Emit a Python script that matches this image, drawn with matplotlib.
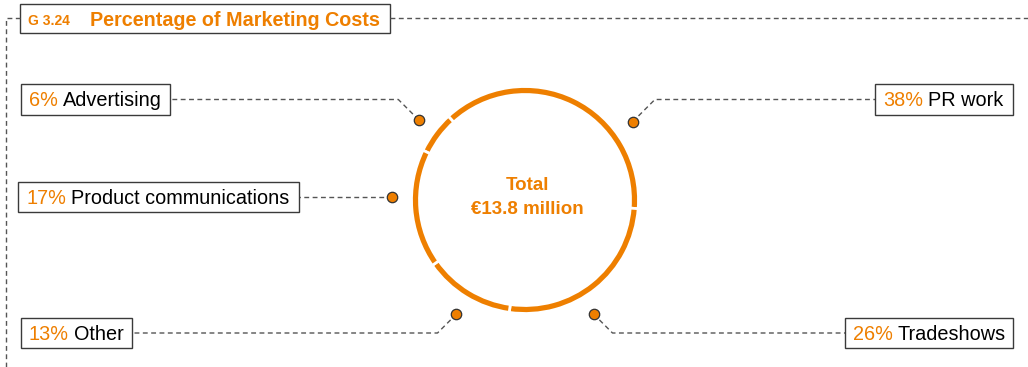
import matplotlib.pyplot as plt
from matplotlib.patches import Rectangle
import numpy as np

# marketing cost split, in the clockwise order the ring is drawn
categories = ["Advertising", "PR work", "Tradeshows", "Other", "Product communications"]
shares = [6, 38, 26, 13, 17]
total_label = "€13.8 million"

chart_id = "G 3.24"
chart_title = "Percentage of Marketing Costs"

ORANGE = "#EE7F00"
EDGE = "#3a3a3a"
DASH = "#555555"
W, H = 1028, 367

plt.rcParams["font.family"] = ["Liberation Sans", "DejaVu Sans"]

fig = plt.figure(figsize=(W / 100, H / 100), dpi=100)
ax = fig.add_axes([0, 0, 1, 1])


def Y(y):
    # layout is written in pixels from the top edge
    return H - y


cx, cy, r = 525, 200, 113.5
ax.pie(shares, radius=r, center=(cx, Y(cy)), startangle=154, counterclock=False,
       colors=[ORANGE] * len(shares), frame=True,
       wedgeprops=dict(width=8, edgecolor="white", linewidth=2.0))

ax.set_xlim(0, W)
ax.set_ylim(0, H)
ax.set_aspect("equal")
ax.axis("off")

ax.text(cx + 2, Y(186), "Total", color=ORANGE, fontsize=13.5, fontweight="bold",
        ha="center", va="center")
ax.text(cx + 2, Y(210), total_label, color=ORANGE, fontsize=13.5, fontweight="bold",
        ha="center", va="center")

# outer dashed frame and title box
dash_kw = dict(color=DASH, lw=1.0, ls=(0, (3.5, 2.5)))
ax.plot([6, 6, 20], [Y(367), Y(18), Y(18)], **dash_kw)
ax.plot([390, W], [Y(18), Y(18)], **dash_kw)
ax.add_patch(Rectangle((20, Y(33)), 370, 29, facecolor="white", edgecolor=EDGE, lw=1.0))
ax.text(28, Y(25), chart_id, color=ORANGE, fontsize=10, fontweight="bold", va="baseline")
ax.text(90, Y(26), chart_title, color=ORANGE, fontsize=14.2, fontweight="bold", va="baseline")

# label boxes: (x0, x1, y0, y1) and anchor angle on the ring
boxes = {
    "Advertising": (21, 170, 84, 115),
    "PR work": (875, 1013, 84, 115),
    "Tradeshows": (845, 1013, 318, 348),
    "Other": (21, 132, 318, 348),
    "Product communications": (18, 299, 182, 212),
}
anchor_deg = {"Advertising": 143, "PR work": 36, "Tradeshows": -59,
              "Other": -121, "Product communications": 178.5}
dot_r = 133
label_fs = 14.3

fig.canvas.draw()
renderer = fig.canvas.get_renderer()

for name, share in zip(categories, shares):
    x0, x1, y0, y1 = boxes[name]
    ym = (y0 + y1) / 2
    ax.add_patch(Rectangle((x0, Y(y1)), x1 - x0, y1 - y0, facecolor="white",
                           edgecolor=EDGE, lw=1.0, zorder=3))
    t = ax.text(x0 + 8, Y(ym + 6.8), f"{share}%", color=ORANGE, fontsize=label_fs,
                va="baseline", zorder=4)
    bb = t.get_window_extent(renderer)
    ax.text(bb.x1 + 5, Y(ym + 6.8), name, color="black", fontsize=label_fs,
            va="baseline", zorder=4)

    a = np.deg2rad(anchor_deg[name])
    dx, dy = cx + dot_r * np.cos(a), cy - dot_r * np.sin(a)
    left = x1 < cx
    edge_x = x1 if left else x0
    # diagonal up to the label line, then flat to the box
    if abs(dy - ym) > 3:
        step = abs(dy - ym)
        elbow_x = dx - step if left else dx + step
        xs = [dx, elbow_x, edge_x]
        ys = [dy, ym, ym]
    else:
        dy = ym
        xs = [dx, edge_x]
        ys = [ym, ym]
    ax.plot(xs, [Y(v) for v in ys], zorder=2, **dash_kw)
    ax.plot(dx, Y(dy), "o", ms=7.5, mfc=ORANGE, mec="#333333", mew=0.9, zorder=5)

fig.savefig("out.png", dpi=100)
